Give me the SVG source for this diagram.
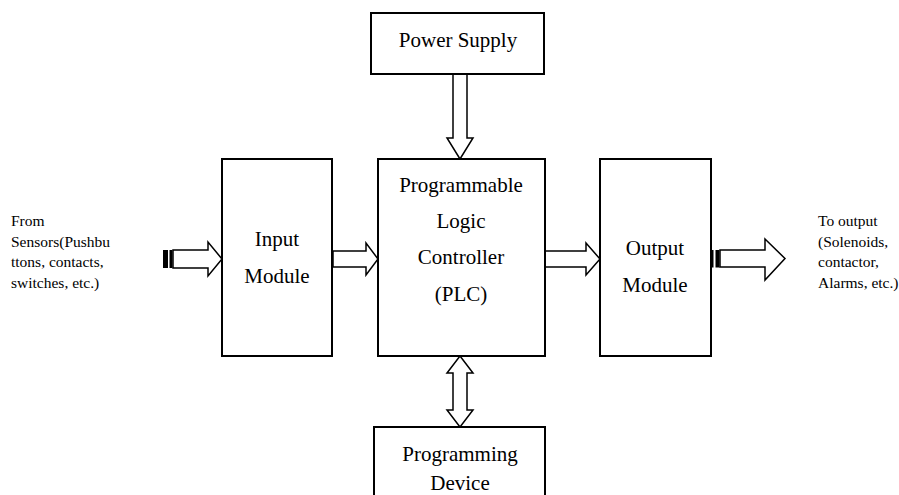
<svg xmlns="http://www.w3.org/2000/svg" width="899" height="495" viewBox="0 0 899 495">
<style>
.box{fill:#fff;stroke:#000;stroke-width:2}
.arr{fill:#fff;stroke:#000;stroke-width:1.5;stroke-linejoin:miter}
.stripe{fill:#000;stroke:#000;stroke-width:1}
text{font-family:'Liberation Serif','DejaVu Serif',serif;fill:#000}
.t{font-size:21px;text-anchor:middle}
.s{font-size:15.5px}
</style>
<rect width="899" height="495" fill="#fff"/>
<g id="connectors">
  <path class="arr" d="M453,74 V138 H447 L460,159 L473,138 H467 V74 Z"/>
  <path class="arr" d="M333,251 H366 V243 L378,259 L366,275 V267 H333 Z"/>
  <path class="arr" d="M545,251 H586 V243 L600,259 L586,275 V267 H545 Z"/>
  <path class="arr" d="M460,356 L473,373 H467 V410 H473 L460,427 L447,410 H453 V373 H447 Z"/>
  <g id="in-arrow">
    <rect class="stripe" x="163.5" y="250.5" width="4" height="17"/>
    <rect class="stripe" x="170" y="250.5" width="2" height="17"/>
    <path class="arr" d="M173,250 H208 V242 L222,259 L208,276 V268 H173 Z"/>
  </g>
  <g id="out-arrow">
    <rect class="stripe" x="711" y="250.5" width="2" height="16.5"/>
    <rect class="stripe" x="716" y="250.5" width="3" height="16.5"/>
    <path class="arr" d="M720,250 H765 V239 L785,258.5 L765,280 V267 H720 Z"/>
  </g>
</g>
<g id="power-supply" font-family="Liberation Serif, serif">
  <rect class="box" x="371" y="13" width="173" height="61"/>
  <text class="t" x="458" y="47">Power Supply</text>
</g>
<g id="plc">
  <rect class="box" x="378" y="159" width="167" height="197"/>
  <text class="t" x="461" y="192">Programmable</text>
  <text class="t" x="461" y="228">Logic</text>
  <text class="t" x="461" y="264">Controller</text>
  <text class="t" x="461" y="301">(PLC)</text>
</g>
<g id="input-module">
  <rect class="box" x="222" y="159" width="110" height="197"/>
  <text class="t" x="277" y="246">Input</text>
  <text class="t" x="277" y="283">Module</text>
</g>
<g id="output-module">
  <rect class="box" x="600" y="159" width="111" height="197"/>
  <text class="t" x="655" y="255">Output</text>
  <text class="t" x="655" y="292">Module</text>
</g>
<g id="programming-device">
  <rect class="box" x="374" y="427" width="171" height="72"/>
  <text class="t" x="460" y="461">Programming</text>
  <text class="t" x="460" y="490">Device</text>
</g>
<g id="source-label">
  <text class="s" x="11" y="226">From</text>
  <text class="s" x="11" y="246.5">Sensors(Pushbu</text>
  <text class="s" x="11" y="267">ttons, contacts,</text>
  <text class="s" x="11" y="287.5">switches, etc.)</text>
</g>
<g id="sink-label">
  <text class="s" x="818" y="226">To output</text>
  <text class="s" x="818" y="246.5">(Solenoids,</text>
  <text class="s" x="818" y="267">contactor,</text>
  <text class="s" x="818" y="287.5">Alarms, etc.)</text>
</g>
</svg>
